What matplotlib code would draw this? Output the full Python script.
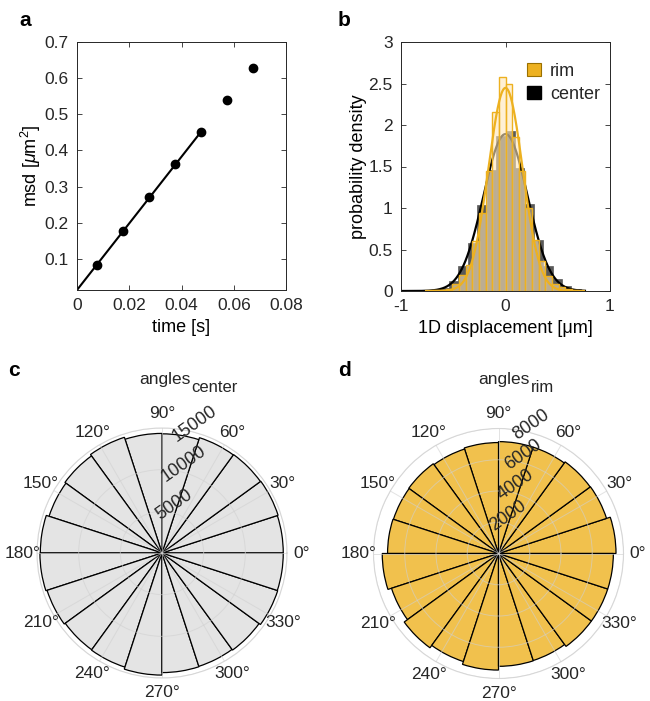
import numpy as np
import matplotlib
matplotlib.use('Agg')
import matplotlib.pyplot as plt
from matplotlib.patches import Patch

plt.rcParams['font.family'] = ['Liberation Sans', 'DejaVu Sans']
plt.rcParams['mathtext.fontset'] = 'custom'
plt.rcParams['mathtext.rm'] = 'Liberation Sans'
plt.rcParams['mathtext.it'] = 'Liberation Sans:italic'
plt.rcParams['axes.linewidth'] = 0.7
plt.rcParams['axes.unicode_minus'] = False
plt.rcParams['text.color'] = '#262626'

# ---- panel a: msd vs lag time
lag_time = [0.0075, 0.0175, 0.0275, 0.0375, 0.0475, 0.0575, 0.0675]
msd = [0.083, 0.178, 0.270, 0.362, 0.452, 0.540, 0.627]
fit_slope = 9.22        # um^2/s
fit_intercept = 0.0138
fit_tmax = 0.0475

# ---- panel b: 1D displacement histograms (pdf)
center_width = 0.09
center_edges_start = -0.81
center_density = [0.005, 0.01, 0.04, 0.12, 0.30, 0.58, 1.04, 1.46, 1.87,
                  1.93, 1.48, 1.05, 0.62, 0.30, 0.14, 0.06, 0.02, 0.005]
rim_width = 0.0635
rim_edges_start = -0.762
rim_density = [0.005, 0.008, 0.012, 0.03, 0.09, 0.19, 0.31, 0.60, 0.94, 1.45, 2.16, 2.58,
               2.49, 1.86, 1.45, 1.00, 0.62, 0.36, 0.18, 0.09, 0.05, 0.02, 0.01, 0.005]
center_mu, center_sigma = 0.0, 0.211
rim_mu, rim_sigma = 0.0, 0.163

# ---- panels c, d: polar histograms of angles, 20 bins of 18 deg
n_bins = 20
center_counts = [14550, 14650, 14600, 14550, 14300, 14350, 14600, 14400, 14250, 14600,
                 14650, 14500, 14350, 14400, 14650, 14350, 14300, 14400, 14600, 14550]
rim_counts = [7520, 7270, 7250, 7160, 7160, 7100, 7030, 7100, 7070, 7100,
              7440, 7200, 7460, 7270, 7460, 7220, 7200, 7350, 7350, 7350]

ORANGE = '#EDB120'
W, H = 650, 701
fig = plt.figure(figsize=(W / 100, H / 100), dpi=100)


def box(l, t, r, b):
    return [l / W, 1 - b / H, (r - l) / W, (b - t) / H]


def style_cart(ax):
    ax.tick_params(direction='in', length=3.5, width=0.6, top=True, right=True,
                   labelsize=12.5, colors='#262626', pad=6)
    for s in ax.spines.values():
        s.set_color('#262626')


# panel a
ax = fig.add_axes(box(77, 42, 286, 290))
t_fit = np.array([0, fit_tmax])
ax.plot(t_fit, fit_intercept + fit_slope * t_fit, color='k', lw=1.5)
ax.plot(lag_time, msd, 'o', color='k', ms=6)
ax.set_xlim(0, 0.08)
ax.set_ylim(fit_intercept, 0.7)
ax.set_xticks([0, 0.02, 0.04, 0.06, 0.08])
ax.set_xticklabels(['0', '0.02', '0.04', '0.06', '0.08'])
ax.set_yticks([0.1, 0.2, 0.3, 0.4, 0.5, 0.6, 0.7])
style_cart(ax)
ax.set_xlabel('time [s]', fontsize=13, labelpad=4)
ax.set_ylabel(r'msd [$\mu$m$^2$]', fontsize=13, labelpad=1)

# panel b
ax = fig.add_axes(box(401, 42, 610, 291))
c_left = center_edges_start + center_width * np.arange(len(center_density))
ax.bar(c_left, center_density, width=center_width, align='edge',
       color='#595959', edgecolor='#595959', lw=0.5, zorder=1)
xc = np.linspace(-1, 0.76, 400)
ax.plot(xc, np.exp(-(xc - center_mu) ** 2 / (2 * center_sigma ** 2)) / (center_sigma * np.sqrt(2 * np.pi)),
        color='k', lw=1.6, zorder=2)
r_left = rim_edges_start + rim_width * np.arange(len(rim_density))
ax.bar(r_left, rim_density, width=rim_width, align='edge',
       facecolor=(1.0, 0.9, 0.72, 0.6), edgecolor=ORANGE, lw=1.0, zorder=3)
xr = np.linspace(-0.76, 0.75, 400)
ax.plot(xr, np.exp(-(xr - rim_mu) ** 2 / (2 * rim_sigma ** 2)) / (rim_sigma * np.sqrt(2 * np.pi)),
        color=ORANGE, lw=1.6, zorder=4)
ax.set_xlim(-1, 1)
ax.set_ylim(0, 3)
ax.set_xticks([-1, 0, 1])
ax.set_yticks([0, 0.5, 1, 1.5, 2, 2.5, 3])
ax.set_yticklabels(['0', '0.5', '1', '1.5', '2', '2.5', '3'])
style_cart(ax)
ax.set_xlabel('1D displacement [μm]', fontsize=13, labelpad=4)
ax.set_ylabel('probability density', fontsize=13, labelpad=1)
handles = [Patch(facecolor=ORANGE, edgecolor='#9a7000', lw=0.8, label='rim'),
           Patch(facecolor='k', edgecolor='k', label='center')]
ax.legend(handles=handles, loc='upper left', bbox_to_anchor=(0.605, 0.915),
          frameon=False, fontsize=13, handlelength=0.75, handleheight=0.75,
          handletextpad=0.5, borderpad=0, borderaxespad=0, labelspacing=0.3)


# panels c, d
def polar_panel(rect, counts, rmax, rticks, face):
    ax = fig.add_axes(rect, projection='polar')
    edges = np.deg2rad(np.arange(n_bins) * 360 / n_bins)
    ax.bar(edges, counts, width=2 * np.pi / n_bins, align='edge',
           color=face, edgecolor='k', lw=0.9, zorder=1)
    ax.set_ylim(0, rmax)
    ax.set_yticks(rticks)
    ax.set_yticklabels([])
    ax.set_thetagrids(np.arange(0, 360, 30), [f'{a}°' for a in range(0, 360, 30)])
    ax.tick_params(axis='x', labelsize=12.5, pad=0, colors='#262626')
    ax.grid(True, color='#d0d0d0', lw=0.7, alpha=0.6, zorder=3)
    ax.set_axisbelow(False)
    ax.spines['polar'].set_color('#dadada')
    ax.spines['polar'].set_linewidth(0.8)
    for rt in rticks:
        ax.text(np.deg2rad(76), rt + 0.065 * rmax, f'{rt}', rotation=35,
                ha='center', va='center', fontsize=13, color='#262626', zorder=5)
    return ax


polar_panel(box(37, 428, 287, 678), center_counts, 15000, [5000, 10000, 15000], '#e4e4e4')
polar_panel(box(373.5, 428.5, 623.5, 678.5), rim_counts, 8000, [2000, 4000, 6000, 8000], '#f1c14d')

# titles (MATLAB-style subscript, nearly full size) and panel letters
for x0, main, sub in [(139, 'angles', 'center'), (478, 'angles', 'rim')]:
    t = fig.text(x0 / W, 1 - 384 / H, main, fontsize=12.5, ha='left', va='baseline')
    fig.canvas.draw()
    bb = t.get_window_extent()
    fig.text(bb.x1 / W + 0.002, 1 - 392 / H, sub, fontsize=12, ha='left', va='baseline')
for letter, x, y in [('a', 19, 26), ('b', 338, 26), ('c', 8, 376), ('d', 338, 376)]:
    fig.text(x / W, 1 - y / H, letter, fontsize=15, fontweight='bold', color='k',
             ha='left', va='baseline')

fig.savefig('out.png', dpi=100)
